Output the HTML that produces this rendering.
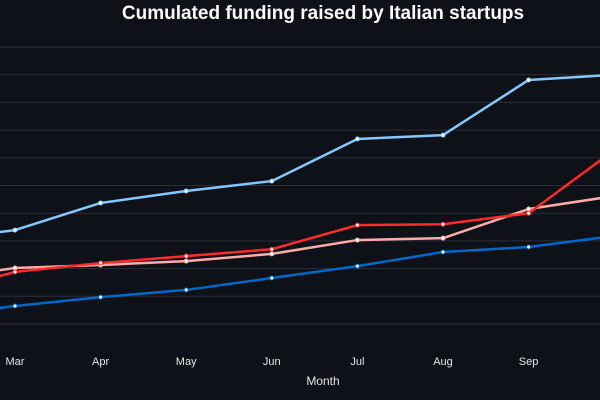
<!DOCTYPE html>
<html><head><meta charset="utf-8"><style>
html,body{margin:0;padding:0;background:#0e1117;width:600px;height:400px;overflow:hidden}
svg{display:block;font-family:"Liberation Sans",sans-serif}
</style></head><body>
<svg id="chart" width="600" height="400">
<text x="323" y="19" text-anchor="middle" fill="#fafafa" font-size="19" font-weight="bold">Cumulated funding raised by Italian startups</text>
<g id="grid"></g><g id="xticks"></g><g id="series"></g>
<text x="323" y="385" text-anchor="middle" fill="#e6e6e6" font-size="12">Month</text>
</svg>
<script>
const months=["Feb","Mar","Apr","May","Jun","Jul","Aug","Sep","Oct"];
const gridValues=[0,1,2,3,4,5,6,7,8,9,10];
const lightBlue=[3.0,3.39,4.37,4.8,5.16,6.68,6.82,8.81,9.0];
const red=[1.05,1.88,2.2,2.45,2.7,3.57,3.6,4.0,6.28];
const pink=[1.6,2.02,2.13,2.27,2.53,3.03,3.1,4.15,4.62];
const blue=[0.25,0.65,0.97,1.23,1.66,2.09,2.6,2.78,3.18];
const NS="http://www.w3.org/2000/svg";
const xS=i=>15+(i-1)*85.6;
const yS=v=>324-v*27.7;
function mk(t,a,p){const e=document.createElementNS(NS,t);for(const k in a)e.setAttribute(k,a[k]);p.appendChild(e);return e;}
const grid=document.getElementById('grid');
gridValues.forEach(v=>{const l=mk('line',{x1:0,x2:600,y1:yS(v),y2:yS(v),stroke:'#2c2f38','stroke-width':1},grid);

});
const xt=document.getElementById('xticks');
months.forEach((m,i)=>{const t=mk('text',{x:xS(i),y:365,'text-anchor':'middle',fill:'#e6e6e6','font-size':11},xt);t.textContent=m;

});
const sg=document.getElementById('series');
[[lightBlue,'#83c9ff','series-light-blue'],[pink,'#ffabab','series-pink'],[red,'#ff2b2b','series-red'],[blue,'#0068c9','series-blue']].forEach(([d,c,n])=>{
const g=mk('g',{},sg);


const p=mk('polyline',{points:d.map((v,i)=>xS(i)+','+yS(v)).join(' '),fill:'none',stroke:c,'stroke-width':2.5,'stroke-linejoin':'round'},g);


d.forEach((v,i)=>{const pt=mk('circle',{cx:xS(i),cy:yS(v),r:2,fill:'#fff',stroke:c,'stroke-width':1},g);

});
});
</script>
</body></html>
